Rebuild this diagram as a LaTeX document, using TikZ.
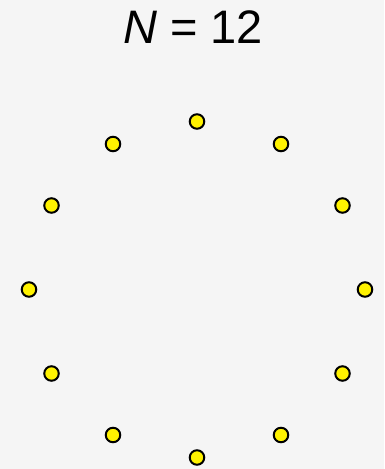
\documentclass[tikz,border=0pt]{standalone}
\usepackage{fontspec}
\setmainfont{Liberation Sans}
\usetikzlibrary{calc}
\definecolor{bgray}{RGB}{245,245,245}
\tikzset{dot/.style={circle, draw=black, fill=yellow, line width=2pt, minimum size=14.5pt, inner sep=0pt}}
\begin{document}
\begin{tikzpicture}[x=1pt,y=1pt]
  \fill[bgray] (0,0) rectangle (384,-469);
  \useasboundingbox (0,0) rectangle (384,-469);
  \node[anchor=base, font=\fontsize{47}{50}\selectfont, inner sep=0pt] (title) at (193,-43) {\textit{N} = 12};
  \foreach \i in {0,...,11} { \node[dot] (p\i) at ($(197,-289.5)+(90-30*\i:168)$) {}; }
\end{tikzpicture}
\end{document}
